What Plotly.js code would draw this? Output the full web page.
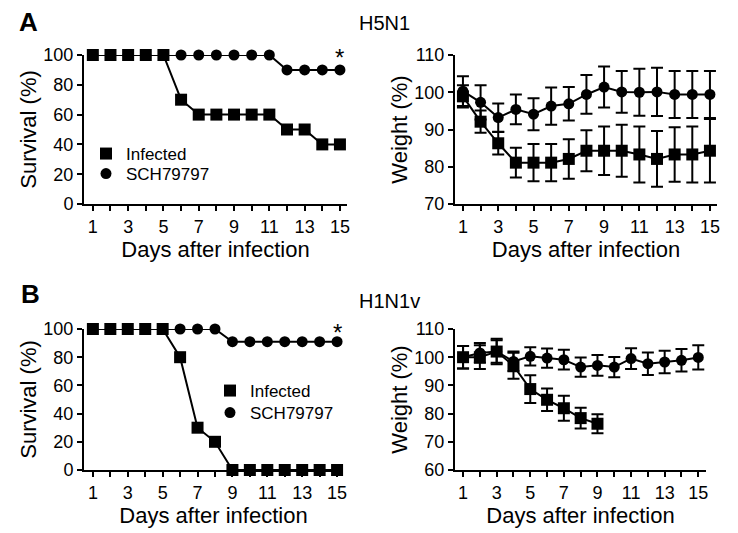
<!DOCTYPE html>
<html>
<head>
<meta charset="utf-8">
<script src="https://cdn.plot.ly/plotly-3.0.1.min.js"></script>
<style>html,body{margin:0;padding:0;background:#fff;}#chart{width:738px;height:533px;}</style>
</head>
<body>
<div id="chart"></div>
<script>
// ---- data ----
const days = [1,2,3,4,5,6,7,8,9,10,11,12,13,14,15];
const dayLabels = ['1','','3','','5','','7','','9','','11','','13','','15'];
const seriesNames = ['Infected', 'SCH79797'];

// Panel A (H5N1)
const survA_inf = [100,100,100,100,100,70,60,60,60,60,60,50,50,40,40];
const survA_sch = [100,100,100,100,100,100,100,100,100,100,100,90,90,90,90];
const wtA_inf = [98.9,92.1,86.3,81.1,81.1,81.1,82.1,84.3,84.3,84.3,83.3,82.1,83.3,83.3,84.3];
const wtA_inf_err = [3,3,3,4,5,5,5.3,5.5,6.5,7,7.5,7.5,7.3,7.5,8.5];
const wtA_sch = [100.3,97.3,93.2,95.4,94.1,96.3,96.9,99.4,101.4,100.1,100,100.1,99.4,99.4,99.4];
const wtA_sch_err = [4,4.6,3.8,4,4.3,5,4.5,5.2,5.5,5.6,6.3,6.5,6.3,6.3,6.3];

// Panel B (H1N1v)
const survB_inf = [100,100,100,100,100,80,30,20,0,0,0,0,0,0,0];
const survB_sch = [100,100,100,100,100,100,100,100,91,91,91,91,91,91,91];
const daysB_inf_wt = [1,2,3,4,5,6,7,8,9];
const wtB_inf = [100,100,102,97,88.7,84.9,81.9,78.4,76.4];
const wtB_inf_err = [4,4.2,4.5,4.6,4.9,4,4.4,3.7,3.4];
const wtB_sch = [100,101.5,102,98.5,100.3,99.7,99.1,96.5,97.1,96.5,99.5,97.7,98.3,98.9,99.9];
const wtB_sch_err = [4,3.5,4,3.5,3.2,3.4,3.5,3.4,3.7,3.6,3.7,4,4,4,4.3];

const survTicks = [0,20,40,60,80,100];
const wtTicksA = [70,80,90,100,110];
const wtTicksB = [60,70,80,90,100,110];

// ---- styling ----
const FONT = 'Liberation Sans, Arial, Helvetica, sans-serif';
const BLACK = '#000';
const sq = {symbol:'square', size:12, color:BLACK};
const ci = {symbol:'circle', size:11, color:BLACK};
const ln = {color:BLACK, width:2};
function err(a){ return {type:'data', array:a, visible:true, color:BLACK, thickness:2, width:6}; }
function tr(x, y, marker, xa, ya, e){
  const t = {x:x, y:y, mode:'lines+markers', marker:marker, line:ln, xaxis:xa, yaxis:ya,
    showlegend:false, cliponaxis:false, hoverinfo:'skip'};
  if (e) t.error_y = err(e);
  return t;
}
function legTr(name, marker, leg){
  return {x:[null], y:[null], mode:'markers', name:name, marker:marker, legend:leg, showlegend:true, hoverinfo:'skip'};
}

const data = [
  tr(days, survA_sch, ci, 'x', 'y'),
  tr(days, survA_inf, sq, 'x', 'y'),
  tr(days, wtA_sch, ci, 'x2', 'y2', wtA_sch_err),
  tr(days, wtA_inf, sq, 'x2', 'y2', wtA_inf_err),
  tr(days, survB_sch, ci, 'x3', 'y3'),
  tr(days, survB_inf, sq, 'x3', 'y3'),
  tr(days, wtB_sch, ci, 'x4', 'y4', wtB_sch_err),
  tr(daysB_inf_wt, wtB_inf, sq, 'x4', 'y4', wtB_inf_err),
  legTr(seriesNames[0], sq, 'legend'),
  legTr(seriesNames[1], ci, 'legend2'),
  legTr(seriesNames[0], sq, 'legend3'),
  legTr(seriesNames[1], ci, 'legend4')
];

function xax(dom, range, anchor){
  return {domain:dom, range:range, anchor:anchor, tickvals:days, ticktext:dayLabels,
    showline:true, linecolor:BLACK, linewidth:2, ticks:'outside', ticklen:5, tickwidth:2, tickcolor:BLACK,
    showgrid:false, zeroline:false, tickfont:{family:FONT, size:18, color:BLACK},
    title:{text:'Days after infection', font:{family:FONT, size:22, color:BLACK}, standoff:0}};
}
function yax(dom, range, ticks, anchor, title){
  return {domain:dom, range:range, anchor:anchor, tickvals:ticks,
    showline:true, linecolor:BLACK, linewidth:2, ticks:'outside', ticklen:5, tickwidth:2, tickcolor:BLACK,
    showgrid:false, zeroline:false, tickfont:{family:FONT, size:18, color:BLACK},
    title:{text:title, font:{family:FONT, size:22, color:BLACK}, standoff:1}};
}

const W = 738, H = 533;
const px = v => v / W, py = v => 1 - v / H;
function leg(left, top){
  return {x:px(left), y:py(top), xanchor:'left', yanchor:'top', bgcolor:'rgba(0,0,0,0)',
    font:{family:FONT, size:17, color:BLACK}, tracegroupgap:0, itemwidth:30};
}

const layout = {
  width:W, height:H, margin:{l:0, r:0, t:0, b:0},
  paper_bgcolor:'#fff', plot_bgcolor:'#fff',
  font:{family:FONT, color:BLACK},
  xaxis: xax([px(84), px(347)], [0.5, 15.4], 'y'),
  yaxis: yax([py(204), py(55)], [0, 100], survTicks, 'x', 'Survival (%)'),
  xaxis2: xax([px(455), px(717)], [0.55, 15.4], 'y2'),
  yaxis2: yax([py(204), py(55)], [70, 110], wtTicksA, 'x2', 'Weight (%)'),
  xaxis3: xax([px(84), px(343)], [0.49, 15.34], 'y3'),
  yaxis3: yax([py(470), py(329)], [0, 100], survTicks, 'x3', 'Survival (%)'),
  xaxis4: xax([px(455), px(706)], [0.52, 15.46], 'y4'),
  yaxis4: yax([py(470), py(329)], [60, 110], wtTicksB, 'x4', 'Weight (%)'),
  legend: leg(86, 136),
  legend2: leg(86, 156),
  legend3: leg(210, 373),
  legend4: leg(210, 395),
  annotations:[
    {xref:'paper', yref:'paper', x:px(17), y:py(22), xanchor:'left', yanchor:'middle', showarrow:false,
     text:'<b>A</b>', font:{family:FONT, size:26, color:BLACK}},
    {xref:'paper', yref:'paper', x:px(19), y:py(294), xanchor:'left', yanchor:'middle', showarrow:false,
     text:'<b>B</b>', font:{family:FONT, size:26, color:BLACK}},
    {xref:'paper', yref:'paper', x:px(357), y:py(23), xanchor:'left', yanchor:'middle', showarrow:false,
     text:'H5N1', font:{family:FONT, size:20, color:BLACK}},
    {xref:'paper', yref:'paper', x:px(357), y:py(301), xanchor:'left', yanchor:'middle', showarrow:false,
     text:'H1N1v', font:{family:FONT, size:20, color:BLACK}},
    {xref:'x', yref:'y', x:15, y:98, xanchor:'center', yanchor:'middle', showarrow:false,
     text:'*', font:{family:FONT, size:24, color:BLACK}},
    {xref:'x3', yref:'y3', x:15, y:97.2, xanchor:'center', yanchor:'middle', showarrow:false,
     text:'*', font:{family:FONT, size:24, color:BLACK}}
  ]
};

Plotly.newPlot('chart', data, layout, {staticPlot:true, displayModeBar:false});
</script>
</body>
</html>
